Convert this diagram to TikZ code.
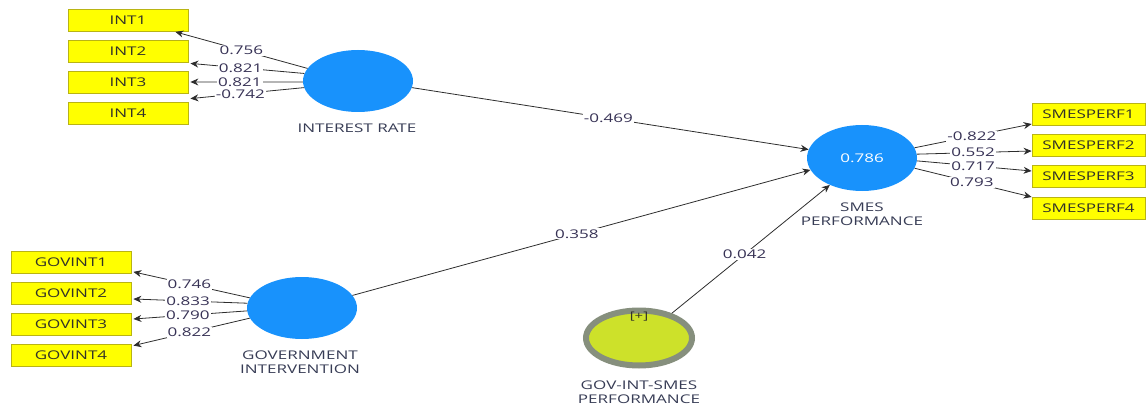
\documentclass[tikz,border=0pt]{standalone}
\usepackage{fontspec}
\setmainfont{Open Sans}[FakeStretch=1.42]
\usetikzlibrary{arrows.meta,shapes.geometric}
\definecolor{lvblue}{RGB}{24,146,252}
\definecolor{boxyellow}{RGB}{255,255,0}
\definecolor{boxedge}{RGB}{185,180,20}
\definecolor{boxtext}{RGB}{50,50,40}
\definecolor{labtext}{RGB}{55,60,85}
\definecolor{coeftext}{RGB}{55,50,85}
\definecolor{linegray}{RGB}{45,45,45}
\definecolor{ringgray}{RGB}{134,143,125}
\definecolor{gisfill}{RGB}{205,225,42}
\begin{document}
\begin{tikzpicture}[x=1pt,y=-1pt,
  font=\fontsize{12}{14}\selectfont,
  ind/.style={draw=boxedge, fill=boxyellow, line width=0.8pt, minimum width=120pt, minimum height=22pt, inner sep=0pt, text=boxtext},
  lv/.style={ellipse, fill=lvblue, minimum width=110pt, minimum height=62pt, inner sep=0pt},
  lvlabel/.style={text=labtext, align=center, inner sep=0pt, font=\fontsize{12}{14}\selectfont},
  coef/.style={fill=white, inner sep=1pt, text=coeftext},
  arr/.style={draw=linegray, line width=0.8pt, -{Stealth[length=8pt,width=7pt]}}
]
\useasboundingbox (0,0) rectangle (1146,409);

% indicator boxes
\node[ind] (int1) at (128,20.5) {INT1};
\node[ind] (int2) at (128,51) {INT2};
\node[ind] (int3) at (128,82) {INT3};
\node[ind] (int4) at (128,113) {INT4};

\node[ind] (gi1) at (71,262.5) {GOVINT1};
\node[ind] (gi2) at (71,293.5) {GOVINT2};
\node[ind] (gi3) at (71,324) {GOVINT3};
\node[ind] (gi4) at (71,355) {GOVINT4};

\node[ind, minimum width=113pt] (sp1) at (1088.5,114) {SMESPERF1};
\node[ind, minimum width=113pt] (sp2) at (1088.5,145) {SMESPERF2};
\node[ind, minimum width=113pt] (sp3) at (1088.5,176.5) {SMESPERF3};
\node[ind, minimum width=113pt] (sp4) at (1088.5,208) {SMESPERF4};

% latent variables
\node[lv] (ir) at (358,81) {};
\node[lv] (gov) at (302,308) {};
\node[lv, minimum height=66pt] (smes) at (862,158) {\textcolor{white}{0.786}};
\node[ellipse, draw=ringgray, line width=6pt, fill=gisfill, minimum width=106pt, minimum height=55pt, inner sep=0pt] (gis) at (639,338) {};
\node[text=boxtext, inner sep=0pt, font=\fontsize{10.5}{12}\selectfont] (plus) at (639,317) {[+]};

% latent labels
\node[lvlabel] (irl) at (357,128) {INTEREST RATE};
\node[lvlabel] (govl) at (300,362) {GOVERNMENT\\INTERVENTION};
\node[lvlabel] (smesl) at (862,214) {SMES\\PERFORMANCE};
\node[lvlabel] (gisl) at (639,392) {GOV-INT-SMES\\PERFORMANCE};

% outer loadings: interest rate
\draw[arr] (ir.166) -- node[coef,pos=0.5]{0.756} ([xshift=-13pt]int1.south east);
\draw[arr] (ir.172.5) -- node[coef,pos=0.56]{0.821} ([xshift=2pt,yshift=-1pt]int2.south east);
\draw[arr] (ir.181) -- node[coef,pos=0.56]{0.821} ([xshift=2pt]int3.east);
\draw[arr] (ir.187.5) -- node[coef,pos=0.56]{-0.742} ([xshift=2pt,yshift=3pt]int4.north east);

% outer loadings: government intervention
\draw[arr] (gov.169.7) -- node[coef,pos=0.52]{0.746} ([xshift=2pt,yshift=2pt]gi1.south east);
\draw[arr] (gov.175.8) -- node[coef,pos=0.52]{0.833} ([xshift=2pt,yshift=-5.5pt]gi2.east);
\draw[arr] (gov.183) -- node[coef,pos=0.52]{0.790} ([xshift=2pt,yshift=5pt]gi3.east);
\draw[arr] (gov.191.3) -- node[coef,pos=0.52]{0.822} ([xshift=2pt,yshift=-2pt]gi4.north east);

% outer loadings: SMES performance
\draw[arr] (smes.11.5) -- node[coef,pos=0.49]{-0.822} ([yshift=-10pt]sp1.west);
\draw[arr] (smes.4.2) -- node[coef,pos=0.49]{0.552} ([yshift=-6pt]sp2.west);
\draw[arr] (smes.-3.2) -- node[coef,pos=0.49]{0.717} ([yshift=5.5pt]sp3.west);
\draw[arr] (smes.-11.5) -- node[coef,pos=0.49]{0.793} ([yshift=11pt]sp4.west);

% structural paths
\draw[arr] (ir.-7.3) -- node[coef,pos=0.495]{-0.469} (smes.171.7);
\draw[arr] (gov.14.8) -- node[coef,pos=0.49]{0.358} (smes.193.5);
\draw[arr] (gis.37) -- node[coef,pos=0.46]{0.042} (smes.220);
\end{tikzpicture}
\end{document}
